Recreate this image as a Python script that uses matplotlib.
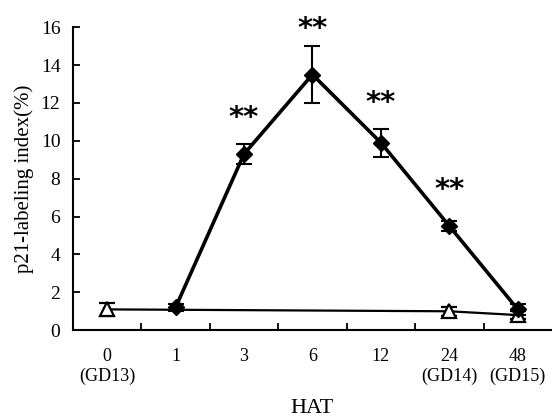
import matplotlib
matplotlib.use("Agg")

import numpy as np
import matplotlib.pyplot as plt

plt.rcParams["font.family"] = ["Liberation Serif", "DejaVu Serif"]

# categories on the x axis (hours after treatment)
hat_labels = ["0\n(GD13)", "1", "3", "6", "12", "24\n(GD14)", "48\n(GD15)"]

# treated group (filled diamonds), at categories 1..48
treated_idx = [1, 2, 3, 4, 5, 6]
treated_mean = [1.2, 9.3, 13.5, 9.9, 5.5, 1.1]
treated_err = [0.2, 0.55, 1.5, 0.75, 0.25, 0.3]

# control group (open triangles)
control_idx = [0, 5, 6]
control_mean = [1.1, 1.0, 0.8]
control_err = [0.35, 0.25, 0.2]

# significance marks
star_idx = [2, 3, 4, 5]
star_y = [11.2, 15.9, 12.0, 7.4]

fig = plt.figure(figsize=(5.52, 4.18), dpi=100)
ax = fig.add_axes([0.132, 0.21, 0.868, 0.725])

ax.errorbar(control_idx, control_mean, yerr=control_err, color="black",
            lw=1.6, marker="^", ms=10, mfc="white", mec="black", mew=1.6,
            capsize=6, elinewidth=1.5, capthick=1.5, zorder=2)
ax.errorbar(treated_idx, treated_mean, yerr=treated_err, color="black",
            lw=2.6, marker="D", ms=8.5, mfc="black", mec="black",
            capsize=6, elinewidth=1.5, capthick=1.5, zorder=3)

for x, y in zip(star_idx, star_y):
    ax.text(x, y, "**", ha="center", va="center", fontsize=21,
            family="DejaVu Sans", fontweight="bold")

ax.set_xlim(-0.5, 6.5)
ax.set_ylim(0, 16)
ax.set_yticks(np.arange(0, 17, 2))
ax.set_xticks(range(len(hat_labels)))
ax.set_xticklabels(hat_labels, fontsize=13)
ax.set_xticks(np.arange(0.5, 6, 1), minor=True)
ax.tick_params(axis="x", which="major", length=0, pad=13)
ax.tick_params(axis="x", which="minor", direction="in", length=5, width=1.3)
ax.tick_params(axis="y", direction="in", length=5, width=1.3, labelsize=14, pad=9)

for s in ["top", "right"]:
    ax.spines[s].set_visible(False)
for s in ["left", "bottom"]:
    ax.spines[s].set_linewidth(1.5)

ax.set_ylabel("p21-labeling index(%)", fontsize=15, labelpad=5)
ax.set_xlabel("HAT", fontsize=16, labelpad=10)

fig.savefig("out.png", dpi=100)
